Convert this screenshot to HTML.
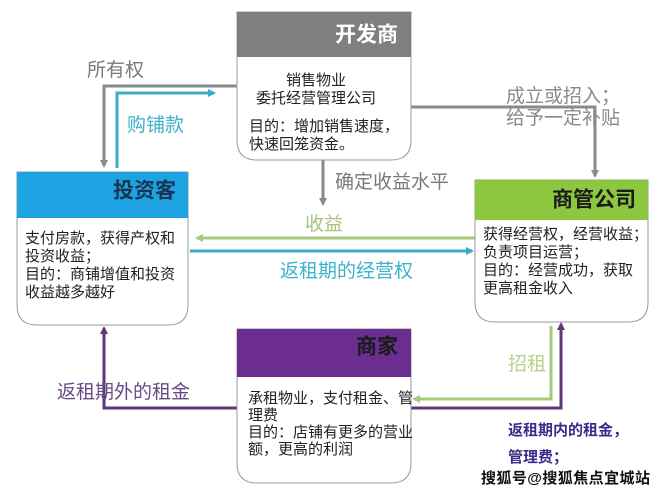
<!DOCTYPE html>
<html><head><meta charset="utf-8"><style>
html,body{margin:0;padding:0;background:#fff;}
svg{display:block;}
text{font-family:"Liberation Sans","Noto Sans CJK SC",sans-serif;}
</style></head><body>
<svg width="663" height="496" viewBox="0 0 663 496" xmlns="http://www.w3.org/2000/svg">
<defs>
<marker id="ag" markerWidth="8" markerHeight="8" refX="6" refY="4" orient="auto" markerUnits="userSpaceOnUse"><path d="M0,0 L8,4 L0,8 z" fill="#8a8a8a"/></marker>
<marker id="at" markerWidth="8" markerHeight="8" refX="6" refY="4" orient="auto" markerUnits="userSpaceOnUse"><path d="M0,0 L8,4 L0,8 z" fill="#3aabc4"/></marker>
<marker id="agr" markerWidth="8" markerHeight="8" refX="6" refY="4" orient="auto" markerUnits="userSpaceOnUse"><path d="M0,0 L8,4 L0,8 z" fill="#a9c97a"/></marker>
<marker id="ap" markerWidth="8" markerHeight="8" refX="6" refY="4" orient="auto" markerUnits="userSpaceOnUse"><path d="M0,0 L8,4 L0,8 z" fill="#5e3a78"/></marker>
</defs>

<!-- connectors -->
<polyline points="237,86 104,86 104,166" fill="none" stroke="#8a8a8a" stroke-width="3" marker-end="url(#ag)"/>
<polyline points="117,168 117,93 214,93" fill="none" stroke="#3aabc4" stroke-width="3" marker-end="url(#at)"/>
<polyline points="411,107 595,107 595,176" fill="none" stroke="#8a8a8a" stroke-width="3" marker-end="url(#ag)"/>
<line x1="323" y1="160" x2="323" y2="204" stroke="#8a8a8a" stroke-width="3" marker-end="url(#ag)"/>
<line x1="475" y1="238" x2="197" y2="238" stroke="#a9c97a" stroke-width="3" marker-end="url(#agr)"/>
<line x1="190" y1="251" x2="472" y2="251" stroke="#3aabc4" stroke-width="3" marker-end="url(#at)"/>
<polyline points="237,408 104,408 104,328" fill="none" stroke="#5e3a78" stroke-width="3" marker-end="url(#ap)"/>
<polyline points="551,326 551,399 414,399" fill="none" stroke="#a9c97a" stroke-width="3" marker-end="url(#agr)"/>
<polyline points="411,408 561,408 561,324" fill="none" stroke="#5e3a78" stroke-width="3" marker-end="url(#ap)"/>

<!-- developer -->
<path d="M237,12 H411 V140 Q411,160 391,160 H257 Q237,160 237,140 Z" fill="#fff" stroke="#999" stroke-width="1"/>
<rect x="237" y="12" width="174" height="45" fill="#7f7f7f"/>
<text x="398" y="36" text-anchor="end" font-size="21" font-weight="bold" fill="#fff" dominant-baseline="middle">开发商</text>
<g font-size="15" fill="#222">
<text x="316" y="85" text-anchor="middle">销售物业</text>
<text x="316" y="103" text-anchor="middle">委托经营管理公司</text>
<text x="249" y="131">目的：增加销售速度，</text>
<text x="249" y="149">快速回笼资金。</text>
</g>

<!-- investor -->
<path d="M17,172 H188 V305 Q188,325 168,325 H37 Q17,325 17,305 Z" fill="#fff" stroke="#999" stroke-width="1"/>
<rect x="17" y="172" width="171" height="46" fill="#1ea3e2"/>
<text x="176" y="192" text-anchor="end" font-size="21" font-weight="bold" fill="#1a3550" dominant-baseline="middle">投资客</text>
<g font-size="15" fill="#222">
<text x="25" y="243">支付房款，获得产权和</text>
<text x="25" y="261">投资收益；</text>
<text x="25" y="279">目的：商铺增值和投资</text>
<text x="25" y="297">收益越多越好</text>
</g>

<!-- management -->
<path d="M475,180 H648 V302 Q648,322 628,322 H495 Q475,322 475,302 Z" fill="#fff" stroke="#999" stroke-width="1"/>
<rect x="475" y="180" width="173" height="40" fill="#8dc63f"/>
<text x="636" y="201" text-anchor="end" font-size="21" font-weight="bold" fill="#1a1a1a" dominant-baseline="middle">商管公司</text>
<g font-size="15" fill="#222">
<text x="483" y="239">获得经营权，经营收益；</text>
<text x="483" y="257">负责项目运营；</text>
<text x="483" y="275">目的：经营成功，获取</text>
<text x="483" y="293">更高租金收入</text>
</g>

<!-- merchant -->
<path d="M237,329 H411 V463 Q411,483 391,483 H257 Q237,483 237,463 Z" fill="#fff" stroke="#999" stroke-width="1"/>
<rect x="237" y="329" width="174" height="48" fill="#6b2d8f"/>
<text x="398" y="348" text-anchor="end" font-size="21" font-weight="bold" fill="#1a1a1a" dominant-baseline="middle">商家</text>
<g font-size="15" fill="#222">
<text x="248" y="403">承租物业，支付租金、管</text>
<text x="248" y="420">理费</text>
<text x="248" y="437">目的：店铺有更多的营业</text>
<text x="248" y="454">额，更高的利润</text>
</g>

<!-- labels -->
<g font-size="19" dominant-baseline="middle">
<text x="87" y="71" fill="#7a7a7a">所有权</text>
<text x="127" y="126" fill="#3fb0c8">购铺款</text>
<text x="506" y="97" fill="#8a8a8a">成立或招入；</text>
<text x="506" y="119" fill="#8a8a8a">给予一定补贴</text>
<text x="335" y="183" fill="#7a7a7a">确定收益水平</text>
<text x="305" y="225" fill="#a8c47c">收益</text>
<text x="280" y="272" fill="#3bb4c8">返租期的经营权</text>
<text x="57" y="393" fill="#6a4a8a">返租期外的租金</text>
<text x="508" y="365" fill="#b8d08a">招租</text>
</g>
<text x="508" y="431" font-size="15" font-weight="bold" fill="#3a2a8a" dominant-baseline="middle">返租期内的租金，</text>
<text x="508" y="458" font-size="15" font-weight="bold" fill="#3a2a8a" dominant-baseline="middle">管理费；</text>
<text x="481" y="479" font-size="15" font-weight="bold" fill="#111" dominant-baseline="middle" textLength="169">搜狐号@搜狐焦点宜城站</text>
</svg>
</body></html>
